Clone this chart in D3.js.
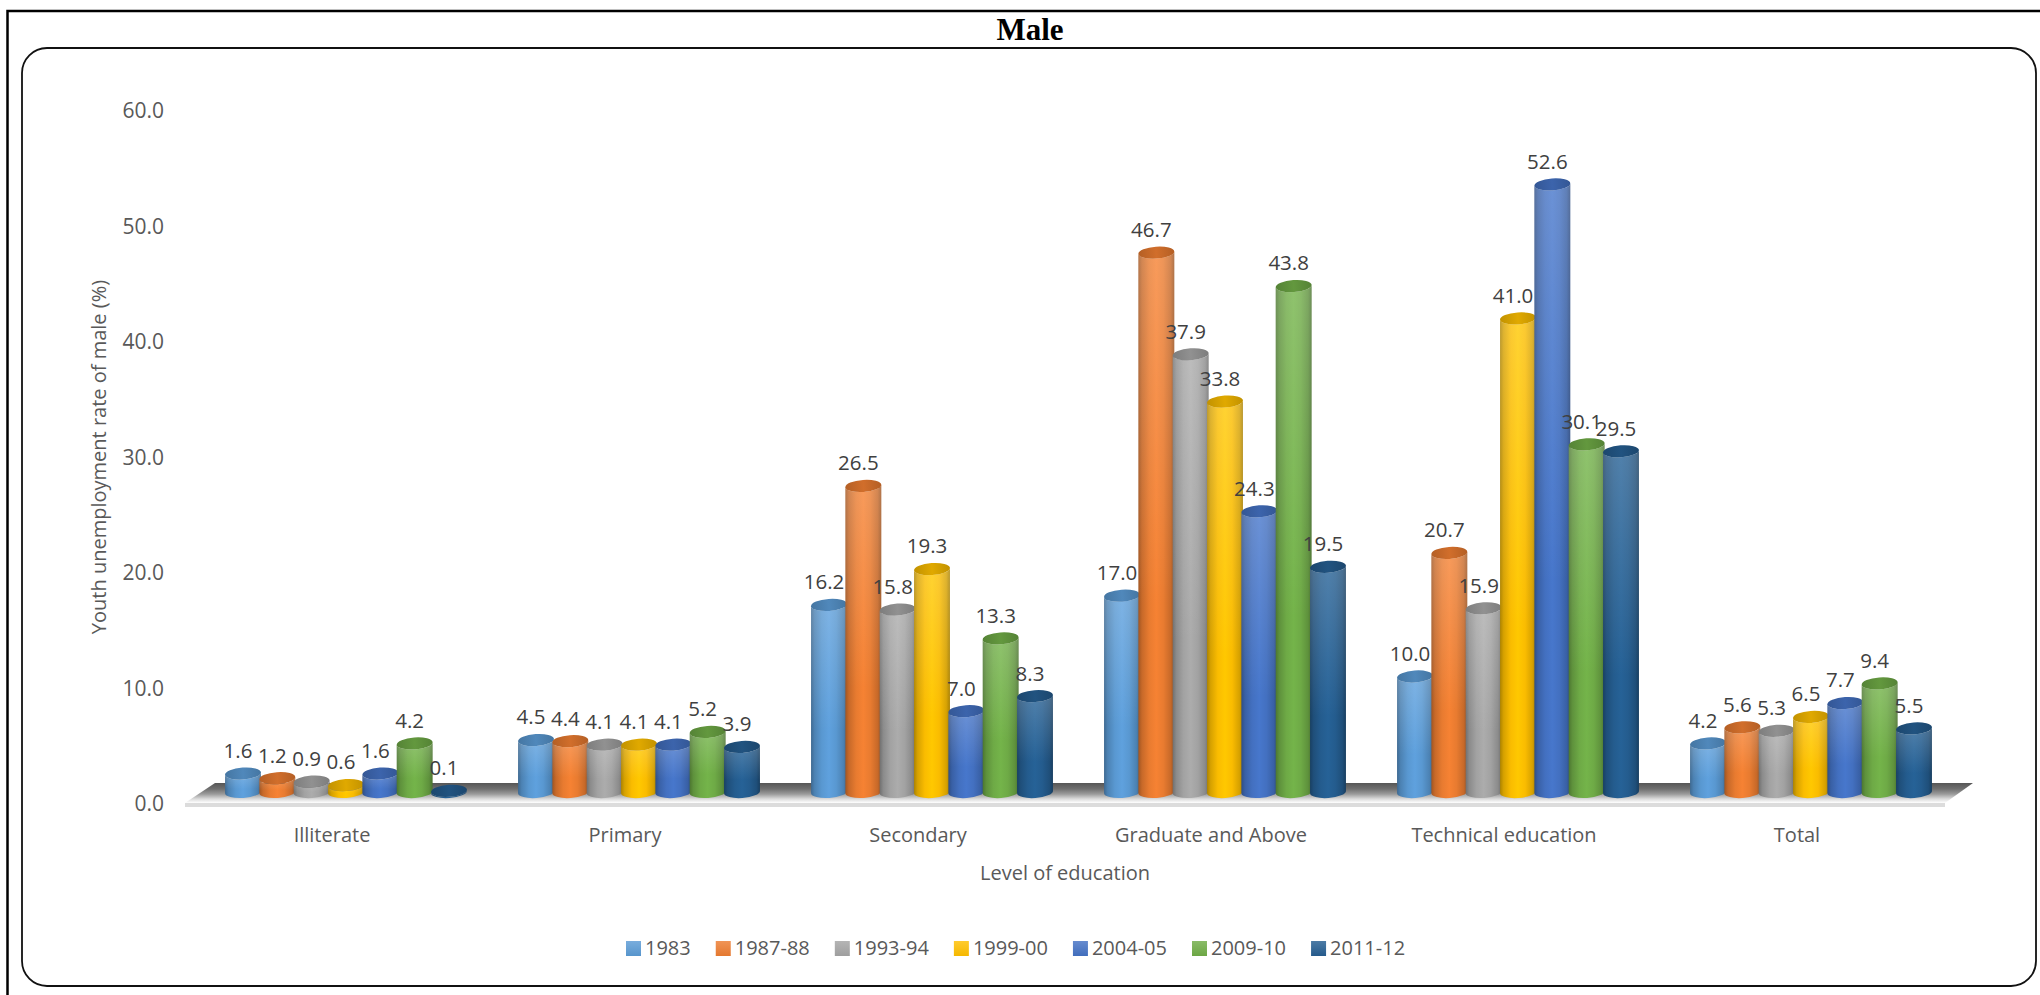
<!DOCTYPE html>
<html>
<head>
<meta charset="utf-8">
<title>Male youth unemployment rate by level of education</title>
<script src="https://cdn.jsdelivr.net/npm/d3@7/dist/d3.min.js"></script>
<style>
  html, body { margin: 0; padding: 0; background: #fff; }
  svg { display: block; }
  text { font-family: "Open Sans", sans-serif; }
</style>
</head>
<body>
<svg id="chart" width="2040" height="995"></svg>
<script>
const categories = ["Illiterate", "Primary", "Secondary", "Graduate and Above", "Technical education", "Total"];
const seriesNames = ["1983", "1987-88", "1993-94", "1999-00", "2004-05", "2009-10", "2011-12"];
const seriesColors = ["#5B9BD5", "#ED7D31", "#A5A5A5", "#FFC000", "#4472C4", "#70AD47", "#255E91"];

const values1983 = [1.6, 4.5, 16.2, 17.0, 10.0, 4.2];
const values1987 = [1.2, 4.4, 26.5, 46.7, 20.7, 5.6];
const values1993 = [0.9, 4.1, 15.8, 37.9, 15.9, 5.3];
const values1999 = [0.6, 4.1, 19.3, 33.8, 41.0, 6.5];
const values2004 = [1.6, 4.1, 7.0, 24.3, 52.6, 7.7];
const values2009 = [4.2, 5.2, 13.3, 43.8, 30.1, 9.4];
const values2011 = [0.1, 3.9, 8.3, 19.5, 29.5, 5.5];
const seriesValues = [values1983, values1987, values1993, values1999, values2004, values2009, values2011];
const yTicks = [0, 10, 20, 30, 40, 50, 60];

const svg = d3.select("#chart");
const defs = svg.append("defs");

// Scales: categories carry the axis labels, series offset each cylinder inside a group.
const xCat = d3.scalePoint().domain(categories).range([332, 1797]);
const xSeries = d3.scalePoint().domain(seriesNames).range([-89, 117]);
const y = d3.scaleLinear().domain([0, 60]).range([792, 99]);

const shade = (c, k) => d3.rgb(c).darker(0).copy({
  r: d3.rgb(c).r * k, g: d3.rgb(c).g * k, b: d3.rgb(c).b * k
}).formatHex();

seriesColors.forEach((c, i) => {
  const side = defs.append("linearGradient").attr("id", `side${i}`);
  [[0, .68], [.1, .84], [.3, .98], [.5, 1.04], [.7, .98], [.9, .84], [1, .66]].forEach(([o, k]) =>
    side.append("stop").attr("offset", o).attr("stop-color", shade(c, k)));
  const cap = defs.append("linearGradient").attr("id", `cap${i}`);
  [[0, .76], [.5, .88], [1, .76]].forEach(([o, k]) =>
    cap.append("stop").attr("offset", o).attr("stop-color", shade(c, k)));
  const swatch = defs.append("linearGradient").attr("id", `swatch${i}`)
    .attr("x1", 0).attr("x2", 0).attr("y1", 0).attr("y2", 1);
  swatch.append("stop").attr("offset", 0).attr("stop-color", d3.interpolateRgb(c, "#fff")(.18));
  swatch.append("stop").attr("offset", 1).attr("stop-color", shade(c, .96));
});

const sheen = defs.append("linearGradient").attr("id", "sheen")
  .attr("x1", 0).attr("x2", 0).attr("y1", 0).attr("y2", 1);
sheen.append("stop").attr("offset", 0).attr("stop-color", "#fff").attr("stop-opacity", .2);
sheen.append("stop").attr("offset", .65).attr("stop-color", "#fff").attr("stop-opacity", 0);

const floorFill = defs.append("linearGradient").attr("id", "floorFill")
  .attr("x1", 0).attr("x2", 0).attr("y1", 0).attr("y2", 1);
[[0, "#565656"], [.3, "#707070"], [.55, "#9a9a9a"], [.8, "#dcdcdc"], [1, "#ffffff"]].forEach(([o, c]) =>
  floorFill.append("stop").attr("offset", o).attr("stop-color", c));

// Outer page rules and the rounded chart frame.
svg.append("path")
  .attr("d", "M7.5,995V11H2040")
  .attr("fill", "none").attr("stroke", "#000").attr("stroke-width", 2.5);
svg.append("rect")
  .attr("x", 22).attr("y", 48).attr("width", 2014).attr("height", 938)
  .attr("rx", 25).attr("ry", 25)
  .attr("fill", "#fff").attr("stroke", "#111").attr("stroke-width", 1.8);

svg.append("text")
  .attr("x", 1030).attr("y", 40).attr("text-anchor", "middle")
  .style("font-family", '"Liberation Serif", serif')
  .style("font-weight", "bold").style("font-size", "31px").attr("fill", "#000")
  .text("Male");

// Chart floor: a receding plane with a thin front lip.
const floorBack = y(0) - 9, floorFront = y(0) + 11;
const floorLeft = xCat.range()[0] - 147, floorRight = xCat.range()[1] + 148;
svg.append("path")
  .attr("d", `M${floorLeft},${floorFront}L${floorLeft + 30},${floorBack}L${floorRight + 28},${floorBack}L${floorRight},${floorFront}Z`)
  .attr("fill", "url(#floorFill)");
svg.append("rect")
  .attr("x", floorLeft).attr("y", floorFront).attr("width", floorRight - floorLeft).attr("height", 4)
  .attr("fill", "#dcdcdc");

// Value axis: labels sit on the front edge of the floor, below the cylinders' base line.
const axisLayer = svg.append("g").attr("transform", "translate(164,12)");
axisLayer.call(d3.axisLeft(y).tickValues(yTicks).tickSize(0).tickPadding(0).tickFormat(d3.format(".1f")));
axisLayer.select(".domain").remove();
axisLayer.selectAll("text")
  .style("font-family", '"Open Sans", sans-serif').style("font-size", "21px").attr("fill", "#595959");

// Cylinders, slightly tilted to suggest the perspective of the floor.
const rx = 18, ry = 6, tilt = -4, tr = tilt * Math.PI / 180;
const dx = rx * Math.cos(tr), dy = rx * Math.sin(tr);

const bars = [];
seriesNames.forEach((s, si) => categories.forEach((c, ci) => {
  bars.push({ si, s, c, v: seriesValues[si][ci] });
}));

const groups = svg.append("g").selectAll("g").data(bars).join("g");
const sidePath = d => {
  const cx = xCat(d.c) + xSeries(d.s), top = y(d.v), base = y(0);
  return `M${cx - dx},${top - dy}L${cx - dx},${base - dy}` +
    `A${rx},${ry} ${tilt} 0 0 ${cx + dx},${base + dy}` +
    `L${cx + dx},${top + dy}A${rx},${ry} ${tilt} 0 1 ${cx - dx},${top - dy}Z`;
};
groups.append("path").attr("d", sidePath).attr("fill", d => `url(#side${d.si})`);
groups.append("path").attr("d", sidePath).attr("fill", "url(#sheen)");
groups.append("ellipse")
  .attr("cx", 0).attr("cy", 0).attr("rx", rx).attr("ry", ry)
  .attr("transform", d => `translate(${xCat(d.c) + xSeries(d.s)},${y(d.v)}) rotate(${tilt})`)
  .attr("fill", d => `url(#cap${d.si})`);

// Data labels float above each cylinder, on top of every mark.
svg.append("g").selectAll("text").data(bars).join("text")
  .attr("x", d => xCat(d.c) + xSeries(d.s) - 5)
  .attr("y", d => y(d.v) - 23)
  .attr("dy", "0.36em")
  .attr("text-anchor", "middle")
  .style("font-size", "20.5px").attr("fill", "#404040")
  .text(d => d3.format(".1f")(d.v));

// Category labels and axis titles.
svg.append("g").selectAll("text").data(categories).join("text")
  .attr("x", d => xCat(d)).attr("y", 835).attr("dy", "0.36em")
  .attr("text-anchor", "middle")
  .style("font-size", "20px").attr("fill", "#595959")
  .text(d => d);

svg.append("text")
  .attr("x", 1065).attr("y", 873).attr("dy", "0.36em").attr("text-anchor", "middle")
  .style("font-size", "20px").attr("fill", "#595959")
  .text("Level of education");

svg.append("text")
  .attr("transform", "translate(99,457) rotate(-90)")
  .attr("dy", "0.36em").attr("text-anchor", "middle")
  .style("font-size", "20px").attr("fill", "#595959")
  .text("Youth unemployment rate of male (%)");

// Legend laid out left to right from each entry's measured text width.
const legend = svg.append("g");
let legendX = 626;
seriesNames.forEach((s, i) => {
  legend.append("rect")
    .attr("x", legendX).attr("y", 941).attr("width", 15).attr("height", 15)
    .attr("fill", `url(#swatch${i})`);
  const label = legend.append("text")
    .attr("x", legendX + 19).attr("y", 948).attr("dy", "0.36em")
    .style("font-size", "20px").attr("fill", "#595959")
    .text(s);
  legendX += 19 + label.node().getComputedTextLength() + 25;
});
</script>
</body>
</html>
